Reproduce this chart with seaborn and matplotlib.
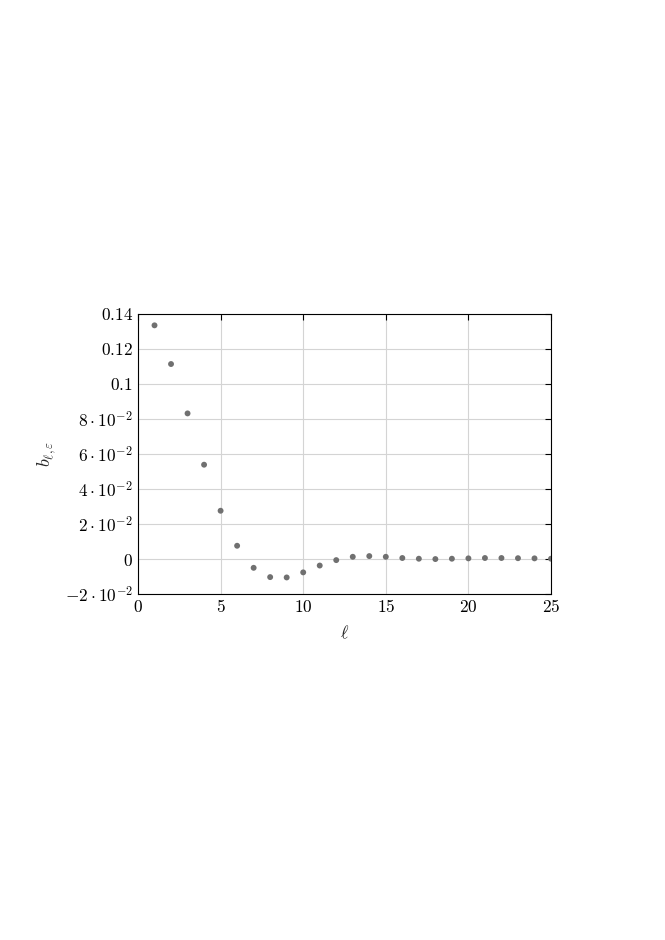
# b_{l,eps} 계수 산점도 재현

import numpy as np
import pandas as pd
import matplotlib
matplotlib.use('Agg')
import matplotlib.pyplot as plt
import matplotlib.ticker as mticker
import seaborn as sns

# 데이터
ell = list(range(1, 26))
b_vals = [0.1335, 0.1114, 0.0832, 0.0539, 0.0276, 0.0076, -0.0050, -0.0103,
          -0.0105, -0.0076, -0.0037, -0.0006, 0.0013, 0.0017, 0.0013, 0.0006,
          0.0002, 0.0000, 0.0002, 0.0004, 0.0006, 0.0006, 0.0005, 0.0004, 0.0002]
y_ticks = [-0.02, 0.0, 0.02, 0.04, 0.06, 0.08, 0.1, 0.12, 0.14]
y_tick_labels = [r'$-2\cdot10^{-2}$', r'$0$', r'$2\cdot10^{-2}$', r'$4\cdot10^{-2}$',
                 r'$6\cdot10^{-2}$', r'$8\cdot10^{-2}$', r'$0.1$', r'$0.12$', r'$0.14$']
x_ticks = [0, 5, 10, 15, 20, 25]

df = pd.DataFrame({'ell': ell, 'b': b_vals})

sns.set_style('white')
plt.rcParams['mathtext.fontset'] = 'cm'
plt.rcParams['font.family'] = ['DejaVu Serif']

fig = plt.figure(figsize=(6.65, 9.4), dpi=100)
ax = fig.add_axes([0.2075, 0.368, 0.6211, 0.298])

sns.scatterplot(data=df, x='ell', y='b', ax=ax, color='#707070', s=18,
                edgecolor='none', zorder=3)

ax.set_xlim(0, 25)
ax.set_ylim(-0.02, 0.14)
ax.set_xticks(x_ticks)
ax.set_xticklabels([f'${t}$' for t in x_ticks])
ax.yaxis.set_major_locator(mticker.FixedLocator(y_ticks))
ax.set_yticklabels(y_tick_labels)

ax.grid(True, color='#d4d4d4', linewidth=0.8)
ax.tick_params(direction='in', length=4, width=0.8, top=True, right=True,
               labelsize=12.5, colors='black')
for s in ax.spines.values():
    s.set_color('black')
    s.set_linewidth(0.8)

ax.set_xlabel(r'$\ell$', fontsize=13, labelpad=6)
ax.set_ylabel(r'$b_{\ell,\varepsilon}$', fontsize=13, labelpad=5)

fig.savefig('out.png', dpi=100, facecolor='white')
